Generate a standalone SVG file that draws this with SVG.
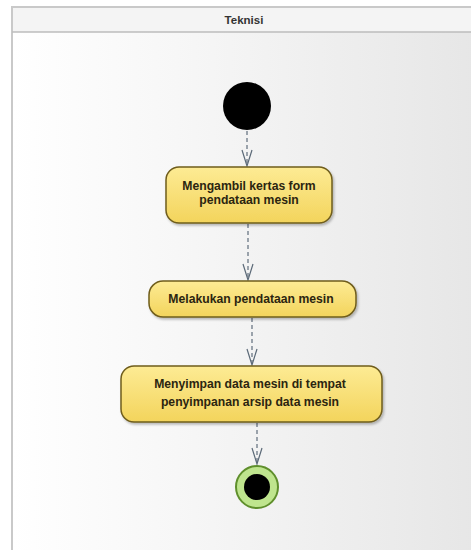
<svg xmlns="http://www.w3.org/2000/svg" width="471" height="550" viewBox="0 0 471 550">
  <defs>
    <linearGradient id="laneBg" x1="0" y1="0" x2="1" y2="0">
      <stop offset="0" stop-color="#ffffff"/>
      <stop offset="0.35" stop-color="#f7f7f7"/>
      <stop offset="1" stop-color="#e6e6e6"/>
    </linearGradient>
    <linearGradient id="actFill" x1="0" y1="0" x2="0" y2="1">
      <stop offset="0" stop-color="#fdeb94"/>
      <stop offset="1" stop-color="#f3d45c"/>
    </linearGradient>
    <filter id="shadow" x="-10%" y="-20%" width="120%" height="150%">
      <feDropShadow dx="1.5" dy="2" stdDeviation="1.2" flood-color="#000" flood-opacity="0.25"/>
    </filter>
    <!-- open V arrowhead, tip at the end of the path -->
    <marker id="openArrow" markerWidth="18" markerHeight="12" refX="17" refY="6" orient="auto" markerUnits="userSpaceOnUse" viewBox="0 0 18 12">
      <path d="M1,1 L17,6 L1,11" fill="none" stroke="#5c6a78" stroke-width="1.2"/>
    </marker>
    <style>
      .act { fill: url(#actFill); stroke: #6f5d1c; stroke-width: 1.5; filter: url(#shadow); }
      .lbl { font-family: "Liberation Sans", Arial, sans-serif; font-size: 12.2px; font-weight: bold; fill: #2b2510; text-anchor: middle; }
      .flow { fill: none; stroke: #6b7785; stroke-width: 1.3; stroke-dasharray: 4 3; marker-end: url(#openArrow); }
      .title { font-family: "Liberation Sans", Arial, sans-serif; font-size: 11.5px; font-weight: bold; fill: #333; text-anchor: middle; }
    </style>
  </defs>

  <rect x="0" y="0" width="471" height="550" fill="#ffffff"/>

  <!-- swimlane -->
  <g id="lane-teknisi">
    <rect x="12" y="7" width="470" height="550" fill="url(#laneBg)" stroke="#c9c9c9" stroke-width="2"/>
    <rect x="13" y="8" width="470" height="24" fill="#f4f4f4"/>
    <line x1="12" y1="32" x2="471" y2="32" stroke="#bdbdbd" stroke-width="1.5"/>
    <text class="title" x="244" y="24">Teknisi</text>
  </g>

  <!-- control flows -->
  <g id="connectors">
    <path class="flow" d="M247,131 L247,166"/>
    <path class="flow" d="M248,224 L248,280"/>
    <path class="flow" d="M252,318 L252,365"/>
    <path class="flow" d="M257,423 L257,464"/>
  </g>

  <g id="start">
    <circle cx="247" cy="106" r="24" fill="#000000"/>
  </g>

  <g id="act-ambil-form">
    <rect class="act" x="166" y="167" width="166" height="56" rx="13"/>
    <text class="lbl" x="249" y="190">Mengambil kertas form</text>
    <text class="lbl" x="249" y="204">pendataan mesin</text>
  </g>

  <g id="act-pendataan">
    <rect class="act" x="149" y="281" width="207" height="36" rx="14"/>
    <text class="lbl" x="251" y="303">Melakukan pendataan mesin</text>
  </g>

  <g id="act-simpan">
    <rect class="act" x="121" y="366" width="261" height="56" rx="13"/>
    <text class="lbl" x="250" y="388">Menyimpan data mesin di tempat</text>
    <text class="lbl" x="250" y="406">penyimpanan arsip data mesin</text>
  </g>

  <g id="end">
    <circle cx="257" cy="487" r="21" fill="#bfe58e" stroke="#5f8f2c" stroke-width="2"/>
    <circle cx="257" cy="487" r="13" fill="#000000"/>
  </g>
</svg>
